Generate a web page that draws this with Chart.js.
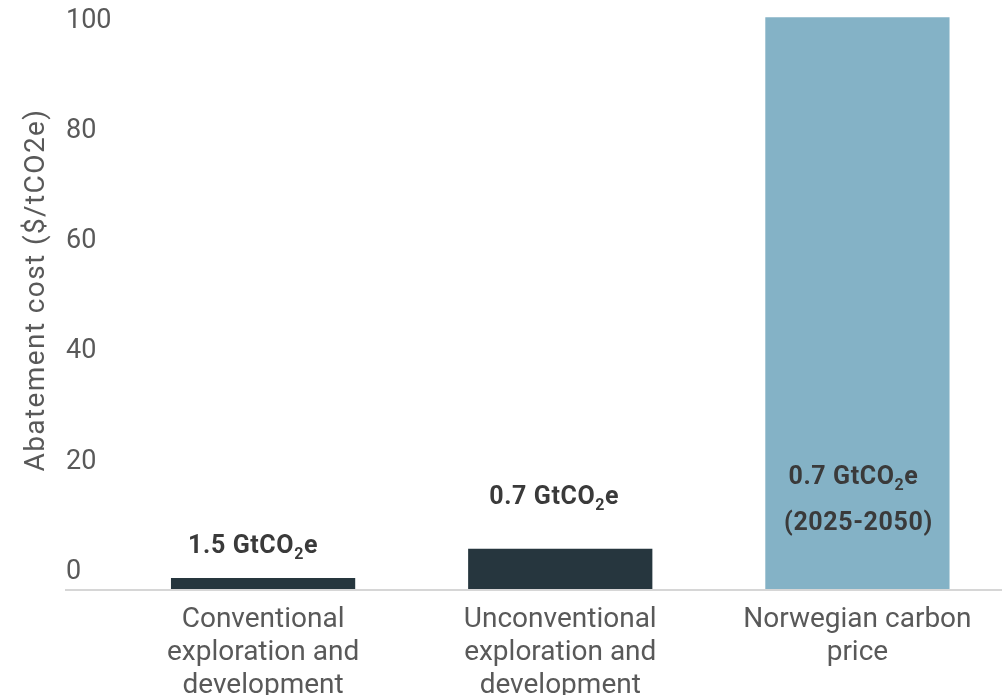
<!DOCTYPE html>
<html>
<head>
<meta charset="utf-8">
<title>Abatement cost</title>
<script src="https://cdn.jsdelivr.net/npm/chart.js@4.4.1/dist/chart.umd.min.js"></script>
<style>
  html, body { margin: 0; padding: 0; background: #ffffff; overflow: hidden; }
  #wrap { position: relative; width: 1006px; height: 700px; }
</style>
</head>
<body>
<div id="wrap"><canvas id="chart"></canvas></div>
<script>
// Categories (multi-line axis labels)
const categories = [
  ['Conventional', 'exploration and', 'development'],
  ['Unconventional', 'exploration and', 'development'],
  ['Norwegian carbon', 'price']
];
// Abatement cost, $/tCO2e
const costValues = [2.0, 7.3, 103.8];
// Emission volume annotations (text before the subscript "2", then "e")
const volumeLabels = ['1.5 GtCO', '0.7 GtCO', '0.7 GtCO'];
const periodLabels = ['', '', '(2025-2050)'];
const yTicks = [0, 20, 40, 60, 80, 100];
const barColors = ['#26363e', '#26363e', '#84b2c6'];

const FONT = 'Roboto, "Noto Sans", sans-serif';

// Axis baseline that runs under the value axis labels to the right edge
const baselinePlugin = {
  id: 'baseline',
  beforeDatasetsDraw(chart) {
    const { ctx } = chart;
    const y = chart.scales.y.getPixelForValue(0);
    ctx.save();
    ctx.strokeStyle = '#d6d6d6';
    ctx.lineWidth = 2;
    ctx.beginPath();
    ctx.moveTo(65, y + 1);
    ctx.lineTo(chart.width, y + 1);
    ctx.stroke();
    ctx.restore();
  }
};

// Rotated value-axis title
const yTitlePlugin = {
  id: 'yTitle',
  afterDraw(chart) {
    const { ctx } = chart;
    ctx.save();
    ctx.translate(37, 290);
    ctx.rotate(-Math.PI / 2);
    ctx.font = '28px ' + FONT;
    ctx.letterSpacing = '1.4px';
    ctx.fillStyle = '#595959';
    ctx.textAlign = 'center';
    ctx.textBaseline = 'middle';
    ctx.fillText('Abatement cost ($/tCO2e)', 0, 0);
    ctx.restore();
  }
};

// Volume annotations with a subscript "2"
const labelOffsets = [-31, -51, null];
const labelShifts = [-10, -6, -4];
function drawSubLabel(ctx, text, cx, cy) {
  const main = 'bold 25px ' + FONT;
  const sub = 'bold 16px ' + FONT;
  ctx.font = main;
  const w1 = ctx.measureText(text).width;
  const wE = ctx.measureText('e').width;
  ctx.font = sub;
  const w2 = ctx.measureText('2').width;
  const total = w1 + w2 + wE;
  let x = cx - total / 2;
  ctx.textAlign = 'left';
  ctx.textBaseline = 'middle';
  ctx.font = main;
  ctx.fillText(text, x, cy);
  x += w1;
  ctx.font = sub;
  ctx.fillText('2', x, cy + 8);
  x += w2;
  ctx.font = main;
  ctx.fillText('e', x, cy);
}
const valueLabelPlugin = {
  id: 'valueLabels',
  afterDatasetsDraw(chart) {
    const { ctx } = chart;
    const meta = chart.getDatasetMeta(0);
    const yScale = chart.scales.y;
    ctx.save();
    ctx.fillStyle = '#3a3a3a';
    ctx.letterSpacing = '0.6px';
    meta.data.forEach((bar, i) => {
      const cx = bar.x + labelShifts[i];
      if (periodLabels[i]) {
        const base = yScale.getPixelForValue(0);
        drawSubLabel(ctx, volumeLabels[i], cx, base - 111);
        ctx.font = 'bold 25px ' + FONT;
        ctx.textAlign = 'center';
        ctx.textBaseline = 'middle';
        ctx.fillText(periodLabels[i], bar.x + 1, base - 65);
      } else {
        drawSubLabel(ctx, volumeLabels[i], cx, bar.y + labelOffsets[i]);
      }
    });
    ctx.restore();
  }
};

new Chart(document.getElementById('chart'), {
  type: 'bar',
  data: {
    labels: categories,
    datasets: [{
      data: costValues,
      backgroundColor: barColors,
      borderWidth: 0,
      categoryPercentage: 0.62,
      barPercentage: 1.0
    }]
  },
  options: {
    responsive: true,
    maintainAspectRatio: false,
    animation: false,
    layout: { padding: { left: 66, right: 0, top: 0, bottom: 0 } },
    plugins: { legend: { display: false }, tooltip: { enabled: false } },
    scales: {
      x: {
        grid: { display: false },
        border: { display: false },
        afterFit(scale) { scale.height = 111; },
        ticks: {
          color: '#595959',
          font: { family: FONT, size: 28, lineHeight: 1.18 },
          padding: 6,
          maxRotation: 0,
          autoSkip: false
        }
      },
      y: {
        min: 0,
        max: 104,
        grid: { display: false, drawTicks: false },
        border: { display: false },
        afterBuildTicks(scale) {
          scale.ticks = yTicks.map(v => ({ value: v }));
        },
        afterFit(scale) { scale.width = 48.5; },
        ticks: {
          color: '#595959',
          font: { family: FONT, size: 27 },
          crossAlign: 'far',
          labelOffset: -17,
          padding: 0
        }
      }
    }
  },
  plugins: [baselinePlugin, yTitlePlugin, valueLabelPlugin]
});
</script>
</body>
</html>
